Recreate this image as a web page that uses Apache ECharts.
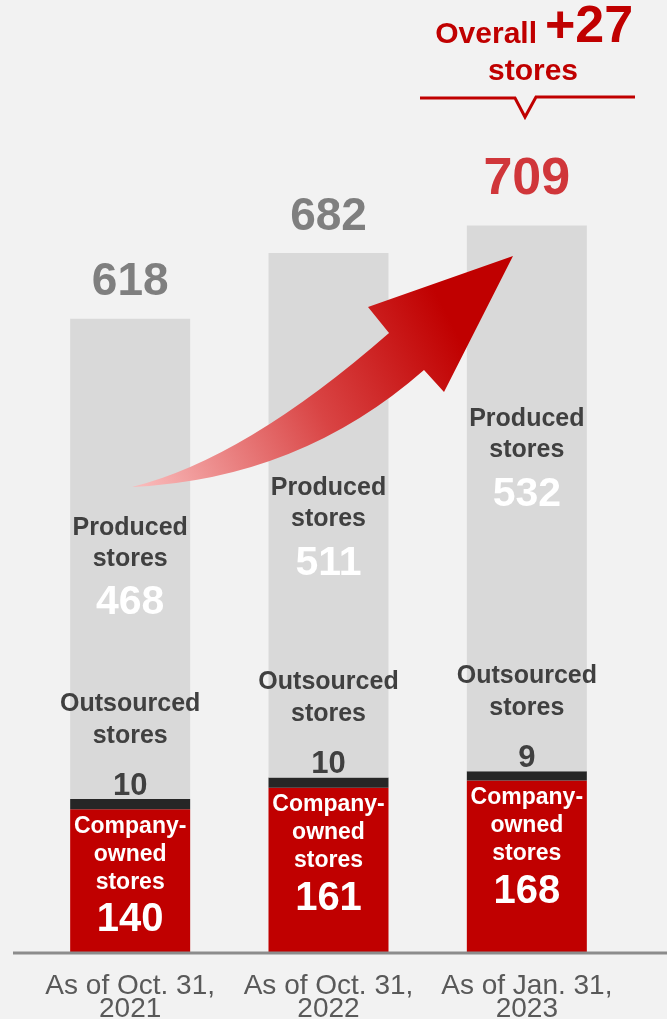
<!DOCTYPE html>
<html>
<head>
<meta charset="utf-8">
<script src="https://cdn.jsdelivr.net/npm/echarts@6/dist/echarts.min.js"></script>
<style>
  html,body{margin:0;padding:0;background:#f2f2f2;}
  #main{width:667px;height:1019px;}
</style>
</head>
<body>
<div id="main"></div>
<script>
// data
var categories = ['As of Oct. 31,\n2021', 'As of Oct. 31,\n2022', 'As of Jan. 31,\n2023'];
var companyOwned = [140, 161, 168];
var outsourced = [10, 10, 9];
var produced = [468, 511, 532];
var totals = [618, 682, 709];
var increase = 27;

var sans = "'Liberation Sans',Arial,sans-serif";
var red = '#c00000';

// curved growth arrow
echarts.graphic.registerShape('growthArrow', echarts.graphic.extendShape({
    shape: {},
    buildPath: function (ctx) {
        ctx.moveTo(132, 487);
        ctx.quadraticCurveTo(245, 459, 389, 333);
        ctx.lineTo(368, 307);
        ctx.lineTo(513, 256);
        ctx.lineTo(444, 392);
        ctx.lineTo(424, 370);
        ctx.quadraticCurveTo(300, 479, 132, 487);
        ctx.closePath();
    }
}));

var chart = echarts.init(document.getElementById('main'));

// label block of the produced segment sits a bit differently in each bar
var producedOffset = [[0, 13], [0, 17], [0, -35]];

var option = {
    backgroundColor: '#f2f2f2',
    animation: false,
    grid: {left: 31, right: 41, top: 132, bottom: 66, outerBoundsMode: 'none', containLabel: false},
    xAxis: {
        type: 'category',
        data: categories,
        axisLine: {show: false},
        axisTick: {show: false},
        axisLabel: {
            interval: 0,
            color: '#595959',
            fontFamily: sans,
            fontSize: 28,
            lineHeight: 23,
            margin: 22
        }
    },
    yAxis: {
        type: 'value',
        min: 0,
        max: 800,
        show: false,
        splitLine: {show: false}
    },
    series: [
        {
            name: 'Company-owned stores',
            type: 'bar',
            stack: 'stores',
            barWidth: 120,
            itemStyle: {color: red},
            data: companyOwned,
            label: {
                show: true,
                position: 'insideTop',
                distance: 3,
                color: '#fff',
                formatter: '{t|Company-}\n{t|owned}\n{t|stores}\n{n|{c}}',
                rich: {
                    t: {fontFamily: sans, fontWeight: 'bold', fontSize: 23, lineHeight: 28, color: '#fff'},
                    n: {fontFamily: sans, fontWeight: 'bold', fontSize: 40, lineHeight: 48, color: '#fff'}
                }
            }
        },
        {
            name: 'Outsourced stores',
            type: 'bar',
            stack: 'stores',
            barWidth: 120,
            itemStyle: {color: '#262626'},
            data: outsourced,
            label: {
                show: true,
                position: 'top',
                distance: -21,
                color: '#404040',
                formatter: '{t|Outsourced}\n{t|stores}\n{n|{c}}',
                rich: {
                    t: {fontFamily: sans, fontWeight: 'bold', fontSize: 25, lineHeight: 32, color: '#404040'},
                    n: {fontFamily: sans, fontWeight: 'bold', fontSize: 31, lineHeight: 68, color: '#404040'}
                }
            }
        },
        {
            name: 'Produced stores',
            type: 'bar',
            stack: 'stores',
            barWidth: 120,
            itemStyle: {color: '#d9d9d9'},
            data: produced.map(function (v, i) {
                return {value: v, label: {offset: producedOffset[i]}};
            }),
            label: {
                show: true,
                position: 'inside',
                formatter: '{t|Produced}\n{t|stores}\n{n|{c}}',
                rich: {
                    t: {fontFamily: sans, fontWeight: 'bold', fontSize: 25, lineHeight: 31, color: '#404040'},
                    n: {fontFamily: sans, fontWeight: 'bold', fontSize: 41, lineHeight: 57, color: '#fff'}
                }
            }
        },
        {
            name: 'Total',
            type: 'bar',
            barWidth: 120,
            barGap: '-100%',
            silent: true,
            itemStyle: {color: 'rgba(0,0,0,0)'},
            data: totals.map(function (v, i) {
                if (i === totals.length - 1) {
                    return {value: v, label: {color: '#d0363a', fontSize: 52, distance: 20}};
                }
                return v;
            }),
            label: {
                show: true,
                position: 'top',
                distance: 13,
                color: '#7f7f7f',
                fontFamily: sans,
                fontWeight: 'bold',
                fontSize: 46
            }
        }
    ],
    graphic: [
        // base line
        {
            type: 'line',
            shape: {x1: 13, y1: 953, x2: 667, y2: 953},
            style: {stroke: '#8c8c8c', lineWidth: 3},
            z: 50
        },
        {
            type: 'growthArrow',
            z: 100,
            style: {
                fill: new echarts.graphic.LinearGradient(140, 480, 450, 320, [
                    {offset: 0, color: '#f9b9b9'},
                    {offset: 0.55, color: '#d94444'},
                    {offset: 1, color: '#c00000'}
                ], true)
            }
        },
        // header
        {
            type: 'text',
            z: 100,
            style: {
                text: 'Overall',
                x: 537, y: 35,
                align: 'right', verticalAlign: 'middle',
                font: 'bold 30px ' + sans,
                fill: red
            }
        },
        {
            type: 'text',
            z: 100,
            style: {
                text: '+' + increase,
                x: 545, y: 28,
                align: 'left', verticalAlign: 'middle',
                font: 'bold 52px ' + sans,
                fill: red
            }
        },
        {
            type: 'text',
            z: 100,
            style: {
                text: 'stores',
                x: 533, y: 72,
                align: 'center', verticalAlign: 'middle',
                font: 'bold 30px ' + sans,
                fill: red
            }
        },
        {
            type: 'polyline',
            z: 100,
            shape: {points: [[420, 98], [515, 98], [525, 117], [536, 97], [635, 97]]},
            style: {stroke: red, lineWidth: 3, fill: null}
        }
    ]
};

chart.setOption(option);
</script>
</body>
</html>
